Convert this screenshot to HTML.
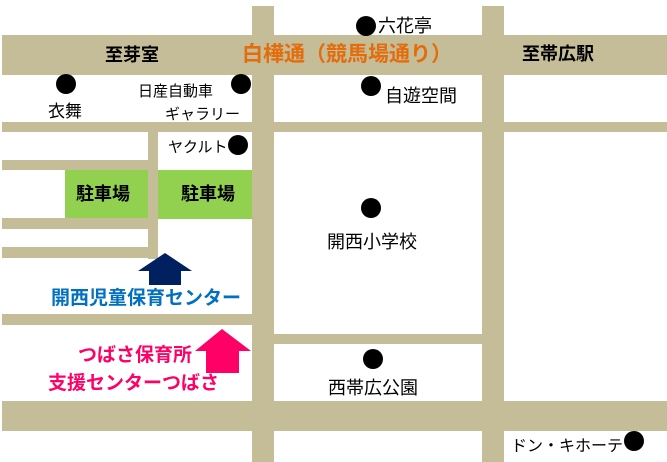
<!DOCTYPE html>
<html><head><meta charset="utf-8"><style>
body{margin:0;width:667px;height:462px;background:#fff;position:relative;overflow:hidden;font-family:"Liberation Sans","Noto Sans CJK JP",sans-serif}
.r{position:absolute;background:#c5bd98}
.g{position:absolute;background:#92d050}
.d{position:absolute;width:20px;height:20px;border-radius:50%;background:#000}
.t{position:absolute;white-space:nowrap;line-height:1;color:#000}
.b{font-weight:bold}
</style></head><body>
<div class="r" style="left:2px;top:35px;width:665px;height:40px"></div>
<div class="r" style="left:252px;top:6px;width:22px;height:456px"></div>
<div class="r" style="left:482px;top:6px;width:22px;height:456px"></div>
<div class="r" style="left:2px;top:122px;width:665px;height:10px"></div>
<div class="r" style="left:148px;top:131px;width:10px;height:128px"></div>
<div class="r" style="left:2px;top:160px;width:146px;height:10px"></div>
<div class="r" style="left:2px;top:218px;width:146px;height:11px"></div>
<div class="r" style="left:2px;top:247px;width:156px;height:11px"></div>
<div class="r" style="left:2px;top:314px;width:252px;height:11px"></div>
<div class="r" style="left:274px;top:334px;width:208px;height:10px"></div>
<div class="r" style="left:2px;top:401px;width:665px;height:30px"></div>
<div class="g" style="left:65px;top:170px;width:83px;height:48px"></div>
<div class="g" style="left:158px;top:170px;width:94px;height:49px"></div>

<div class="d" style="left:56px;top:74px"></div>
<div class="d" style="left:231px;top:74px"></div>
<div class="d" style="left:228px;top:135px"></div>
<div class="d" style="left:356px;top:16px"></div>
<div class="d" style="left:361px;top:76px"></div>
<div class="d" style="left:361px;top:198px"></div>
<div class="d" style="left:363px;top:349px"></div>
<div class="d" style="left:624px;top:431px"></div>

<div class="t b" style="left:105px;top:46px;font-size:18px">至芽室</div>
<div class="t b" style="left:242px;top:44px;font-size:21px;color:#e46c0a">白樺通（競馬場通り）</div>
<div class="t b" style="left:522px;top:45px;font-size:18px">至帯広駅</div>
<div class="t" style="left:48px;top:103px;font-size:17px">衣舞</div>
<div class="t" style="left:138px;top:84px;font-size:15px">日産自動車</div>
<div class="t" style="left:165px;top:107px;font-size:15px">ギャラリー</div>
<div class="t" style="left:168px;top:140px;font-size:15px">ヤクルト</div>
<div class="t b" style="left:76px;top:185px;font-size:18px">駐車場</div>
<div class="t b" style="left:181px;top:185px;font-size:18px">駐車場</div>
<div class="t" style="left:378px;top:17px;font-size:18px">六花亭</div>
<div class="t" style="left:385px;top:87px;font-size:18px">自遊空間</div>
<div class="t" style="left:327px;top:233px;font-size:18px">開西小学校</div>
<div class="t" style="left:328px;top:379px;font-size:18px">西帯広公園</div>
<div class="t" style="left:511px;top:439px;font-size:16px">ドン・キホーテ</div>

<svg style="position:absolute;left:0;top:0" width="667" height="462">
<polygon points="165,253 192,271 181,271 181,285 149,285 149,271 138,271" fill="#002060"/>
<polygon points="222,329 251,351 239,351 239,373 206,373 206,351 195,351" fill="#ff0066"/>
</svg>
<div class="t b" style="left:51px;top:289px;font-size:19px;color:#0070c0">開西児童保育センター</div>
<div class="t b" style="left:78px;top:346px;font-size:19px;color:#ff0066">つばさ保育所</div>
<div class="t b" style="left:48px;top:374px;font-size:19px;color:#ff0066">支援センターつばさ</div>
</body></html>
